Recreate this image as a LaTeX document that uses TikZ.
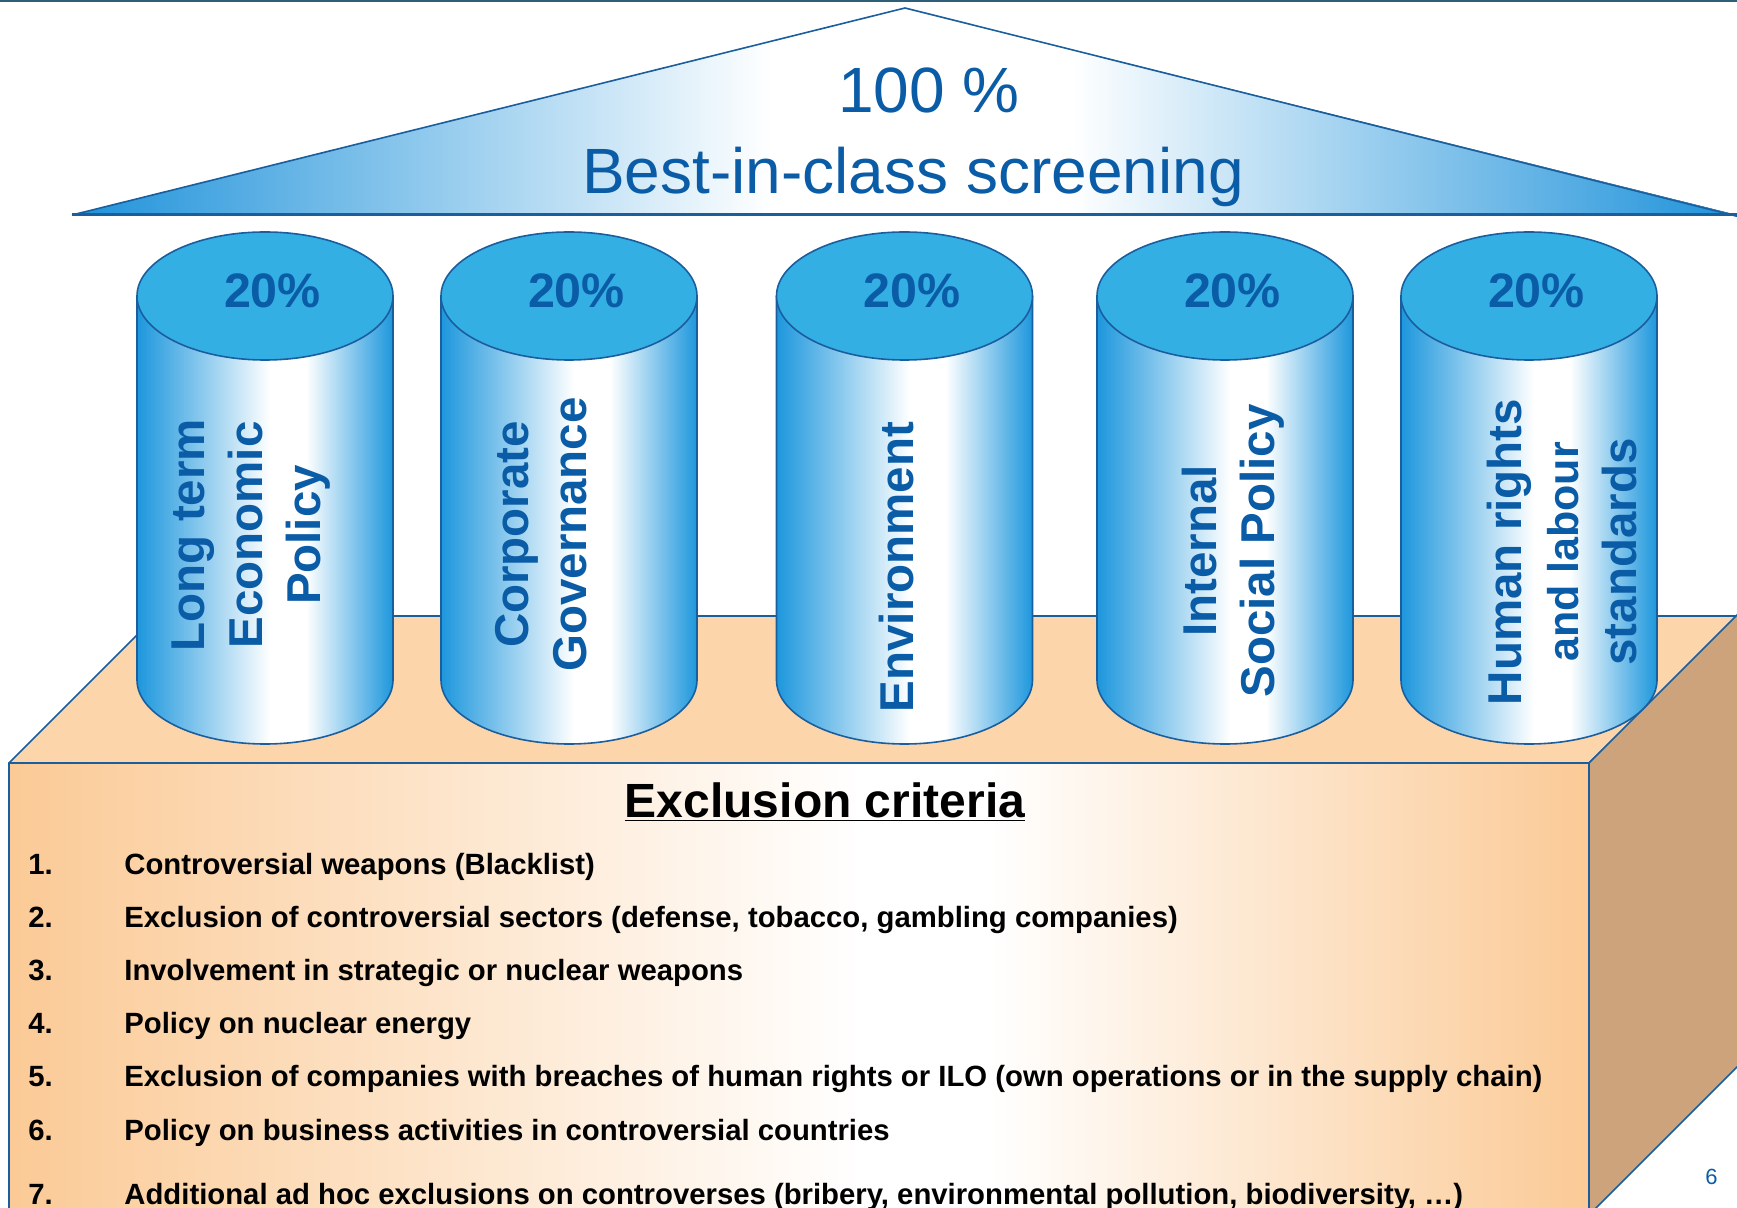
\documentclass[tikz,border=0pt]{standalone}
\usepackage{fontspec}
\setmainfont{Liberation Sans}
\definecolor{txtblue}{HTML}{0B5CA6}
\definecolor{outline}{HTML}{1B5E9E}
\definecolor{cyltop}{HTML}{34AFE4}
\definecolor{cylside}{HTML}{1D97DD}
\definecolor{triblue}{HTML}{1E92DA}
\definecolor{peach}{HTML}{FBCA96}
\definecolor{topface}{HTML}{FDD5AA}
\definecolor{tan}{HTML}{CDA37B}
\definecolor{topline}{HTML}{2F5E78}
\pgfdeclarehorizontalshading{cylbody}{100bp}{color(0bp)=(cylside); color(25bp)=(cylside); color(51bp)=(white); color(58bp)=(white); color(75bp)=(cylside); color(100bp)=(cylside)}
\pgfdeclarehorizontalshading{trishade}{100bp}{color(0bp)=(triblue); color(25bp)=(triblue); color(46bp)=(white); color(55bp)=(white); color(75bp)=(triblue); color(100bp)=(triblue)}
\pgfdeclarehorizontalshading{frontshade}{100bp}{color(0bp)=(peach); color(25bp)=(peach); color(52bp)=(white); color(56bp)=(white); color(75bp)=(peach); color(100bp)=(peach)}
\tikzset{
  edge/.style={draw=outline, line width=0.8pt, line join=round},
  pct/.style={font=\fontsize{24.2}{30}\selectfont\bfseries, text=txtblue, anchor=base, inner sep=0pt},
  pillar/.style={rotate=90, align=center, text=txtblue, inner sep=0pt,
     font=\fontsize{23.75}{28.8}\selectfont\bfseries},
  num/.style={anchor=base west, inner sep=0pt, font=\fontsize{14.65}{17}\selectfont\bfseries},
  item/.style={anchor=base west, inner sep=0pt, font=\fontsize{14.65}{17}\selectfont\bfseries}
}
\begin{document}
\begin{tikzpicture}[x=0.5pt,y=0.5pt]
\useasboundingbox (0,0) rectangle (1737,1207);
% top border
\draw[topline, line width=1pt] (0,1206) -- (1737,1206);
% plinth box
\fill[shading=frontshade] (9,-5) rectangle (1589,444);
\draw[edge] (9,-5) -- (9,444) -- (1589,444) -- (1589,-5);
\filldraw[edge, fill=topface] (9,444) -- (156,591) -- (1740,591) -- (1589,444) -- cycle;
\filldraw[edge, fill=tan] (1589,444) -- (1740,595) -- (1740,143) -- (1589,-8) -- cycle;
% cylinders
\foreach \cx/\n in {265/a,569/b,904.5/c,1225/d,1529/e}{
  \fill[shading=cylbody] (\cx-128,911) -- (\cx-128,527) arc[start angle=180,end angle=360,x radius=128,y radius=64] -- (\cx+128,911) -- cycle;
  \draw[edge] (\cx-128,911) -- (\cx-128,527) arc[start angle=180,end angle=360,x radius=128,y radius=64] -- (\cx+128,911);
  \filldraw[edge, fill=cyltop] (\cx,911) ellipse [x radius=128, y radius=64];
  \node[pct] (pct\n) at (\cx+7.5,899) {20\%};
}
\node[pillar] (ta) at (251,672) {Long term\\Economic\\Policy};
\node[pillar] (tb) at (541,672.5) {Corporate\\Governance};
\node[pillar] (tc) at (897,640) {Environment};
\node[pillar] (td) at (1233.5,656) {Internal\\Social Policy};
\node[pillar] (te) at (1562,655) {Human rights\\{\fontsize{21.5}{28.8}\selectfont\bfseries and labour}\\standards};
% roof
\fill[shading=trishade] (72,992) -- (905,1199) -- (1737,992) -- cycle;
\draw[edge] (72,992) -- (905,1199) -- (1740,990);
\draw[outline, line width=1.5pt] (72,992) -- (1740,992);
\node[anchor=base, text=txtblue, inner sep=0pt, font=\fontsize{32}{38}\selectfont] (hundred) at (929,1094) {100 \%};
\node[anchor=base, text=txtblue, inner sep=0pt, font=\fontsize{32}{38}\selectfont] (bic) at (913,1013) {Best-in-class screening};
% exclusion criteria
\node[anchor=base, inner sep=0pt, font=\fontsize{24}{28}\selectfont\bfseries] (ec) at (825,389.5) {\underline{Exclusion criteria}};
\foreach \y/\k/\t in {333/1/{Controversial weapons (Blacklist)},
  280/2/{Exclusion of controversial sectors (defense, tobacco, gambling companies)},
  226.5/3/{Involvement in strategic or nuclear weapons},
  173.4/4/{Policy on nuclear energy},
  120.3/5/{Exclusion of companies with breaches of human rights or ILO (own operations or in the supply chain)},
  67/6/{Policy on business activities in controversial countries},
  3/7/{Additional ad hoc exclusions on controverses (bribery, environmental pollution, biodiversity, …)}}{
  \node[num] (n\k) at (28,\y) {\k.};
  \node[item] (i\k) at (124,\y) {\t};
}
\node[text=txtblue, font=\fontsize{11}{13}\selectfont, inner sep=0pt] (page) at (1711.5,30.5) {6};
\end{tikzpicture}
\end{document}
